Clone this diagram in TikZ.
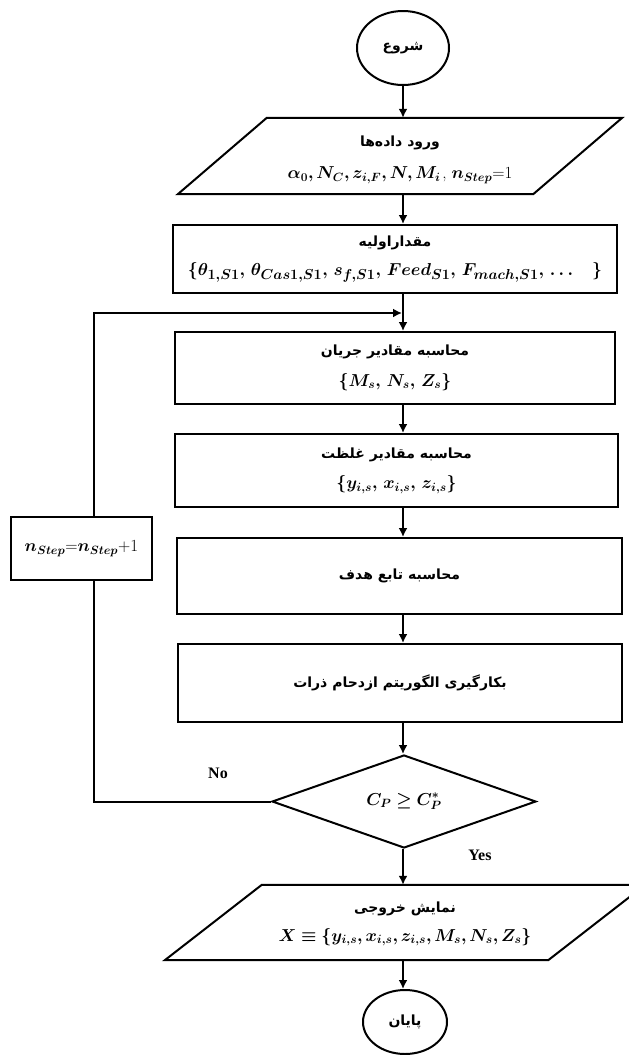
\documentclass[tikz,border=0pt]{standalone}
\usepackage{fontspec}
\usepackage{amsmath,amssymb,bm}
\usetikzlibrary{arrows.meta,shapes.geometric,calc}
\newfontfamily\arabicfont[Script=Arabic]{DejaVu Sans}
\newfontfamily\tnr{Liberation Serif}
\TeXXeTstate=1
\newcommand{\fa}[1]{{\arabicfont\bfseries\fontsize{14}{15}\selectfont\beginR #1\endR}}
\newcommand{\mth}[1]{{\fontsize{17}{20}\selectfont$\bm{#1}$}}
\newcommand{\mtx}[1]{{\fontsize{17}{20}\selectfont #1}}
\begin{document}
\begin{tikzpicture}[x=1pt,y=-1pt,
  line/.style={line width=2pt},
  arr/.style={line width=1.8pt,-{Latex[length=9pt,width=9pt]}},
  proc/.style={draw,line width=2pt,rectangle,inner sep=0pt,align=center},
  term/.style={draw,line width=2pt,ellipse,inner sep=0pt},
  iobox/.style={draw=none,rectangle,inner sep=0pt,align=center},
  lab/.style={font=\tnr\bfseries\fontsize{16}{18}\selectfont,inner sep=0pt}]
\useasboundingbox (0,0) rectangle (629,1055);
\coordinate (col) at (403,0);
\coordinate (loopx) at (94,0);
\coordinate (join) at (403,313);

\node[term,minimum width=92pt,minimum height=74pt] (start) at (403,48) {\fa{شروع}};

\node[iobox,minimum width=355pt,minimum height=76pt] (in) at (400,160)
  {\fa{ورود داده‌ها}\\[16pt]\mth{\alpha_0, N_C, z_{i,F}, N, M_i}\,\mtx{, }\mth{n_{Step}}\mtx{=1}};
\draw[line] ($(in.north west)+(44.5,-4)$) -- ($(in.north east)+(44.5,-4)$) -- ($(in.south east)+(-44.5,-4)$) -- ($(in.south west)+(-44.5,-4)$) -- cycle;

\node[proc,minimum width=444pt,minimum height=68pt] (init) at (395,259)
  {\fa{مقداراولیه}\\[11pt]{\fontsize{19}{22}\selectfont$\bm{\{\theta_{1,S1},\, \theta_{Cas1,S1},\, s_{f,S1},\, Feed_{S1},\, F_{mach,S1},\,\ldots\quad\}}$}};

\node[proc,minimum width=440pt,minimum height=72pt] (flow) at (395,368)
  {\fa{محاسبه مقادیر جریان}\\[13pt]\mth{\{M_s,\, N_s,\, Z_s\}}};

\node[proc,minimum width=443pt,minimum height=73pt] (conc) at (396.5,470.5)
  {\fa{محاسبه مقادیر غلظت}\\[13pt]\mth{\{y_{i,s},\, x_{i,s},\, z_{i,s}\}}};

\node[proc,minimum width=445pt,minimum height=76pt] (obj) at (399.5,576)
  {\fa{محاسبه تابع هدف}};

\node[proc,minimum width=444pt,minimum height=78pt] (pso) at (400,683)
  {\fa{بکارگیری الگوریتم ازدحام ذرات}};

\node[draw,line width=2pt,diamond,inner sep=0pt,minimum width=264pt,minimum height=93pt] (dec) at (404,801.5)
  {\mth{C_P \geq C_P^*}};

\node[iobox,minimum width=383pt,minimum height=75pt] (out) at (405,924)
  {\fa{نمایش خروجی}\\[11pt]\mth{X \equiv \{y_{i,s}, x_{i,s}, z_{i,s}, M_s, N_s, Z_s\}}};
\draw[line] ($(out.north west)+(48.5,-1.5)$) -- ($(out.north east)+(48.5,-1.5)$) -- ($(out.south east)+(-48.5,-1.5)$) -- ($(out.south west)+(-48.5,-1.5)$) -- cycle;

\node[term,minimum width=84pt,minimum height=64pt] (end) at (405,1022) {\fa{پایان}};

\node[proc,minimum width=141pt,minimum height=63pt] (step) at (81.5,548.5)
  {\mth{n_{Step}}\mtx{=}\mth{n_{Step}}\mtx{+1}};

\node[lab] (no) at (218,773) {No};
\node[lab] (yes) at (480,855) {Yes};

\draw[arr] (start.south -| col) -- ($(in.north -| col)+(0,-4)$);
\draw[arr] ($(in.south -| col)+(0,-4)$) -- (init.north -| col);
\draw[arr] (init.south -| col) -- (flow.north -| col);
\draw[arr] (flow.south -| col) -- (conc.north -| col);
\draw[arr] (conc.south -| col) -- (obj.north -| col);
\draw[arr] (obj.south -| col) -- (pso.north -| col);
\draw[arr] (pso.south -| col) -- (dec.north -| col);
\draw[arr] (dec.south -| col) -- ($(out.north -| col)+(0,-1.5)$);
\draw[arr] ($(out.south -| col)+(0,-1.5)$) -- (end.north -| col);
\draw[line] (dec.west) -- (dec.west -| loopx) -- (step.south -| loopx);
\draw[arr,shorten >=1pt] (step.north -| loopx) |- (join);
\end{tikzpicture}
\end{document}
